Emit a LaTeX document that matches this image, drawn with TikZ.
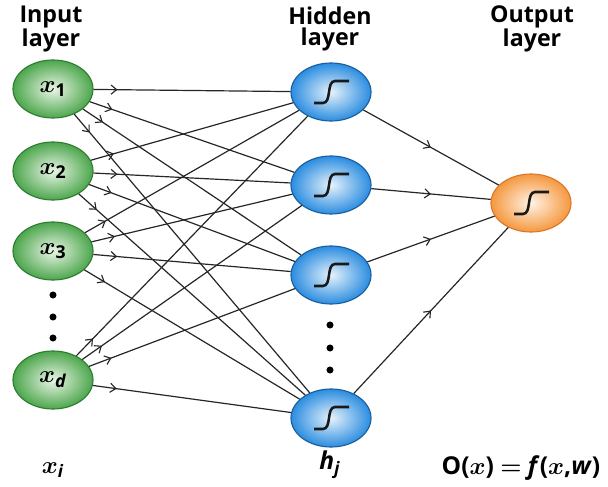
\documentclass[tikz,border=0pt]{standalone}
\usepackage{amsmath}
\usepackage{fontspec}
\setmainfont{Open Sans}
\usetikzlibrary{shapes.geometric,arrows.meta,decorations.markings}

\definecolor{grnline}{HTML}{2E7D32}
\definecolor{grnout}{HTML}{4CA64C}
\definecolor{grnin}{HTML}{EAF5E6}
\definecolor{bluline}{HTML}{1B5E9E}
\definecolor{bluout}{HTML}{2B8DE0}
\definecolor{bluin}{HTML}{E6F2FB}
\definecolor{orgline}{HTML}{D9782D}
\definecolor{orgout}{HTML}{F5983F}
\definecolor{orgin}{HTML}{FFF3E6}

\begin{document}
\begin{tikzpicture}[x=0.025cm,y=-0.025cm,
  neuron/.style={ellipse, minimum width=2cm, minimum height=1.45cm, inner sep=0pt, line width=0.8pt, font=\fontsize{18}{20}\selectfont},
  innode/.style={neuron, draw=grnline, inner color=grnin, outer color=grnout},
  hidnode/.style={neuron, draw=bluline, inner color=bluin, outer color=bluout, sigmoid},
  outnode/.style={neuron, draw=orgline, inner color=orgin, outer color=orgout, sigmoid},
  sigmoid/.style={path picture={\draw[draw=black!90, line width=1.8pt] (path picture bounding box.center) ++(-17,11) -- ++(9,0) to[out=0,in=180,looseness=0.9] ++(12,-22) -- ++(14,0);}},
  wire/.style={line width=0.85pt, draw=black!85, postaction={decorate},
    decoration={markings, mark=at position #1 with {\arrow{Straight Barb[length=4pt,width=6.5pt,line width=0.8pt]}}}},
  wire/.default=0.6cm,
  vdot/.style={circle, fill=black, inner sep=0pt, minimum size=5pt},
  title/.style={align=center, font=\fontsize{16.5}{15.6}\selectfont\bfseries},
  eqn/.style={font=\fontsize{17.5}{19}\selectfont\bfseries}]
\useasboundingbox (0,0) rectangle (608,487);

% layer titles
\node[title] (tin) at (51,29) {Input\\layer};
\node[title] (thid) at (330,29) {Hidden\\layer};
\node[title] (tout) at (532,29) {Output\\layer};

% input layer
\node[innode] (x1) at (53,89) {$\boldsymbol{x}_{\textbf{1}}$};
\node[innode] (x2) at (53,171) {$\boldsymbol{x}_{\textbf{2}}$};
\node[innode] (x3) at (53,251) {$\boldsymbol{x}_{\textbf{3}}$};
\node[innode] (xd) at (53,380) {$\boldsymbol{x}_{\textbf{\textit{d}}}$};
\node[vdot] (di1) at (53,295) {};
\node[vdot] (di2) at (53,317) {};
\node[vdot] (di3) at (53,338) {};

% hidden layer
\node[hidnode] (h1) at (331,92) {};
\node[hidnode] (h2) at (331,185) {};
\node[hidnode] (h3) at (331,275) {};
\node[hidnode] (hm) at (331,418) {};
\node[vdot] (dh1) at (330,325) {};
\node[vdot] (dh2) at (330,348) {};
\node[vdot] (dh3) at (330,370) {};

% output layer
\node[outnode] (out) at (531,203) {};

% input -> hidden
\draw[wire] (x1) -- (h1);
\draw[wire] (x1) -- (h2);
\draw[wire] (x1) -- (h3);
\draw[wire] (x1) -- (hm);
\draw[wire] (x2) -- (h1);
\draw[wire] (x2) -- (h2);
\draw[wire] (x2) -- (h3);
\draw[wire] (x2) -- (hm);
\draw[wire] (x3) -- (h1);
\draw[wire] (x3) -- (h2);
\draw[wire] (x3) -- (h3);
\draw[wire] (x3) -- (hm);
\draw[wire] (xd) -- (h1);
\draw[wire] (xd) -- (h2);
\draw[wire] (xd) -- (h3);
\draw[wire] (xd) -- (hm);

% hidden -> output
\draw[wire=0.5] (h1) -- (out);
\draw[wire=0.5] (h2) -- (out);
\draw[wire=0.5] (h3) -- (out);
\draw[wire=0.5] (hm) -- (out);

% bottom labels
\node[eqn] (lx) at (53,470) {$\boldsymbol{x}_{\textbf{\textit{i}}}$};
\node[eqn] (lh) at (330,465) {\textit{h}$_{\textbf{\textit{j}}}$};
\node[eqn] (lo) at (521,468) {O($\boldsymbol{x}$) $\boldsymbol{=}$ \textit{f}($\boldsymbol{x}$,\textit{w})};
\end{tikzpicture}
\end{document}
